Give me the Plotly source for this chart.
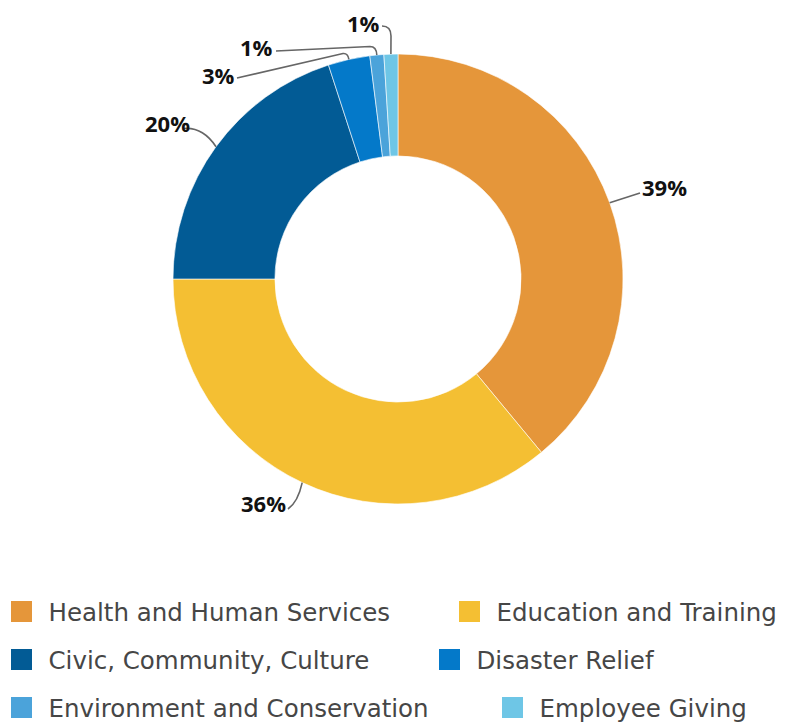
import math
import plotly.graph_objects as go

# ---------------- data ----------------
categories = [
    "Health and Human Services",
    "Education and Training",
    "Civic, Community, Culture",
    "Disaster Relief",
    "Environment and Conservation",
    "Employee Giving",
]
values = [39, 36, 20, 3, 1, 1]
colors = ["#E5963A", "#F4BF33", "#025B95", "#0479C9", "#4BA3DA", "#6EC6E6"]

# ---------------- layout constants ----------------
OFF = 8                      # page body margin of the browser
WIN_W, WIN_H = 788, 723
W, H = WIN_W - OFF, WIN_H - OFF   # figure size
CX, CY, R = 398, 279, 225    # donut centre / outer radius (window px)
HOLE = 0.547


def px_x(x):
    return (x - OFF) / W


def px_y(y):
    return 1 - (y - OFF) / H


# label placement (window px): text anchor point, anchor side, leader route
label_spec = [
    dict(tx=640, ty=187, side="left",  route=lambda a: f"M{a[0]},{a[1]} L640,193"),
    dict(tx=288, ty=503, side="right", route=lambda a: f"M{a[0]},{a[1]} Q298,502 288,509"),
    dict(tx=192, ty=123, side="right", route=lambda a: f"M{a[0]},{a[1]} Q203,127 184,128.5"),
    dict(tx=237, ty=75,  side="right", route=lambda a: f"M{a[0]},{a[1]} Q348,53 343,53.5 L237,78"),
    dict(tx=275, ty=47,  side="right", route=lambda a: f"M{a[0]},{a[1]} Q376.5,46.5 370,46.5 L276,51"),
    dict(tx=382, ty=23,  side="right", route=lambda a: f"M{a[0]},{a[1]} L391,36 Q391,26 382,26"),
]

# legend entries: swatch centre x, row centre y (window px)
legend_pos = [(22.5, 611.5), (470.5, 611.5), (22.5, 659.5), (450.5, 659.5), (22.5, 707.5), (513.5, 707.5)]
SYMBOL_OFFSET = 28           # swatch centre relative to legend origin

fig = go.Figure()

cx_f, cy_f = CX - OFF, CY - OFF
fig.add_trace(go.Pie(
    values=values,
    labels=categories,
    marker=dict(colors=colors, line=dict(color="white", width=0.6)),
    hole=HOLE,
    sort=False,
    direction="clockwise",
    rotation=0,
    textinfo="none",
    hoverinfo="label+percent",
    showlegend=False,
    domain=dict(x=[(cx_f - R) / W, (cx_f + R) / W], y=[(H - cy_f - R) / H, (H - cy_f + R) / H]),
))

# legend entries (one legend per entry so positions can follow the reference flow)
legend_layouts = {}
for i, (cat, col) in enumerate(zip(categories, colors)):
    lname = "legend" if i == 0 else f"legend{i + 1}"
    fig.add_trace(go.Scatter(
        x=[None], y=[None], mode="markers", name=cat,
        marker=dict(symbol="square", size=16, color=col, line=dict(color=col, width=5)),
        legend=lname, showlegend=True, hoverinfo="skip",
    ))
    lx, ly = legend_pos[i]
    legend_layouts[lname] = dict(
        x=px_x(lx - SYMBOL_OFFSET), y=px_y(ly), xanchor="left", yanchor="middle",
        orientation="h", itemwidth=44, bgcolor="rgba(0,0,0,0)", borderwidth=0,
        font=dict(family="DejaVu Sans", size=24.5, color="#464646"),
        itemclick=False, itemdoubleclick=False,
    )

# percentage labels + leader lines, anchored at each slice's mid-angle
total = sum(values)
cum = 0
shapes, annotations = [], []
for v, spec in zip(values, label_spec):
    ang = 2 * math.pi * (cum + v / 2) / total
    cum += v
    ax = CX + R * math.sin(ang)
    ay = CY - R * math.cos(ang)
    shapes.append(dict(type="path", xref="x", yref="y", path=spec["route"]((round(ax, 1), round(ay, 1))),
                       line=dict(color="#666666", width=1.6)))
    annotations.append(dict(
        x=spec["tx"], y=spec["ty"], xref="x", yref="y", showarrow=False,
        text=f"<b>{round(v / total * 100)}%</b>", xanchor=spec["side"], yanchor="middle",
        font=dict(family="Open Sans", size=22, color="#111111"),
    ))

fig.update_layout(
    width=W, height=H,
    margin=dict(l=0, r=0, t=0, b=0, autoexpand=False),
    paper_bgcolor="white", plot_bgcolor="white",
    xaxis=dict(range=[OFF, WIN_W], visible=False, fixedrange=True, domain=[0, 1]),
    yaxis=dict(range=[WIN_H, OFF], visible=False, fixedrange=True, domain=[0, 1]),
    shapes=shapes, annotations=annotations,
    **legend_layouts,
)

fig.write_html("out.html")
